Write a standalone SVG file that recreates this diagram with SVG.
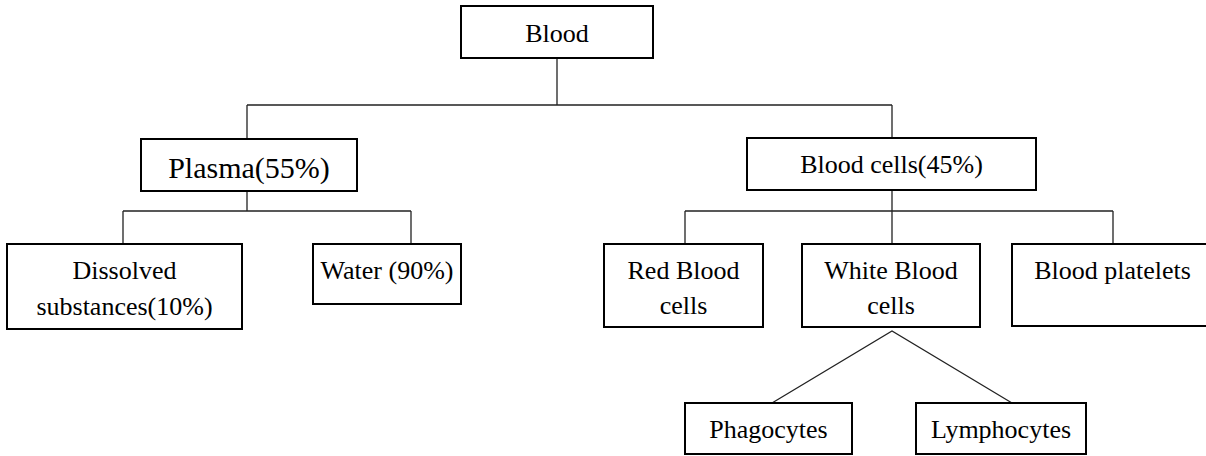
<svg xmlns="http://www.w3.org/2000/svg" width="1206" height="456" viewBox="0 0 1206 456">
<style>
.box{fill:#fff;stroke:#000;stroke-width:2}
.lbl{font-family:"Liberation Serif","Times New Roman",serif;font-size:26px;fill:#000;text-anchor:middle}
.big{font-size:30px}
.conn{fill:none;stroke:#222;stroke-width:1.3}
</style>
<rect width="1206" height="456" fill="#fff"/>
<g id="connectors">
<path class="conn" d="M557 58V105M247 105H892M247 105V139M892 105V138"/>
<path class="conn" d="M247 191V211M123 211H411M123 211V244M411 211V244"/>
<path class="conn" d="M892 190V244M685 211H1113M685 211V244M1113 211V244"/>
<path class="conn" d="M772 403L892 331L1012 403"/>
</g>
<g id="blood"><rect class="box" x="461" y="6" width="192" height="52"/><text class="lbl" x="557" y="42">Blood</text></g>
<g id="plasma"><rect class="box" x="141" y="139" width="216" height="52"/><text class="lbl big" x="249" y="178">Plasma(55%)</text></g>
<g id="bloodcells"><rect class="box" x="747" y="138" width="289" height="52"/><text class="lbl" x="891.5" y="173">Blood cells(45%)</text></g>
<g id="dissolved"><rect class="box" x="7" y="244" width="235" height="85"/><text class="lbl" x="124.5" y="279">Dissolved</text><text class="lbl" x="124.5" y="315">substances(10%)</text></g>
<g id="water"><rect class="box" x="313" y="244" width="148" height="60"/><text class="lbl" x="387" y="279">Water (90%)</text></g>
<g id="redcells"><rect class="box" x="604" y="244" width="159" height="83"/><text class="lbl" x="683.5" y="279">Red Blood</text><text class="lbl" x="683.5" y="314">cells</text></g>
<g id="whitecells"><rect class="box" x="802" y="244" width="178" height="83"/><text class="lbl" x="891" y="279">White Blood</text><text class="lbl" x="891" y="314">cells</text></g>
<g id="platelets"><rect class="box" x="1012" y="244" width="205" height="82"/><text class="lbl" x="1112.5" y="279">Blood platelets</text></g>
<g id="phagocytes"><rect class="box" x="685" y="403" width="167" height="51"/><text class="lbl" x="768.5" y="438">Phagocytes</text></g>
<g id="lymphocytes"><rect class="box" x="916" y="403" width="170" height="51"/><text class="lbl" x="1001" y="438">Lymphocytes</text></g>
</svg>
